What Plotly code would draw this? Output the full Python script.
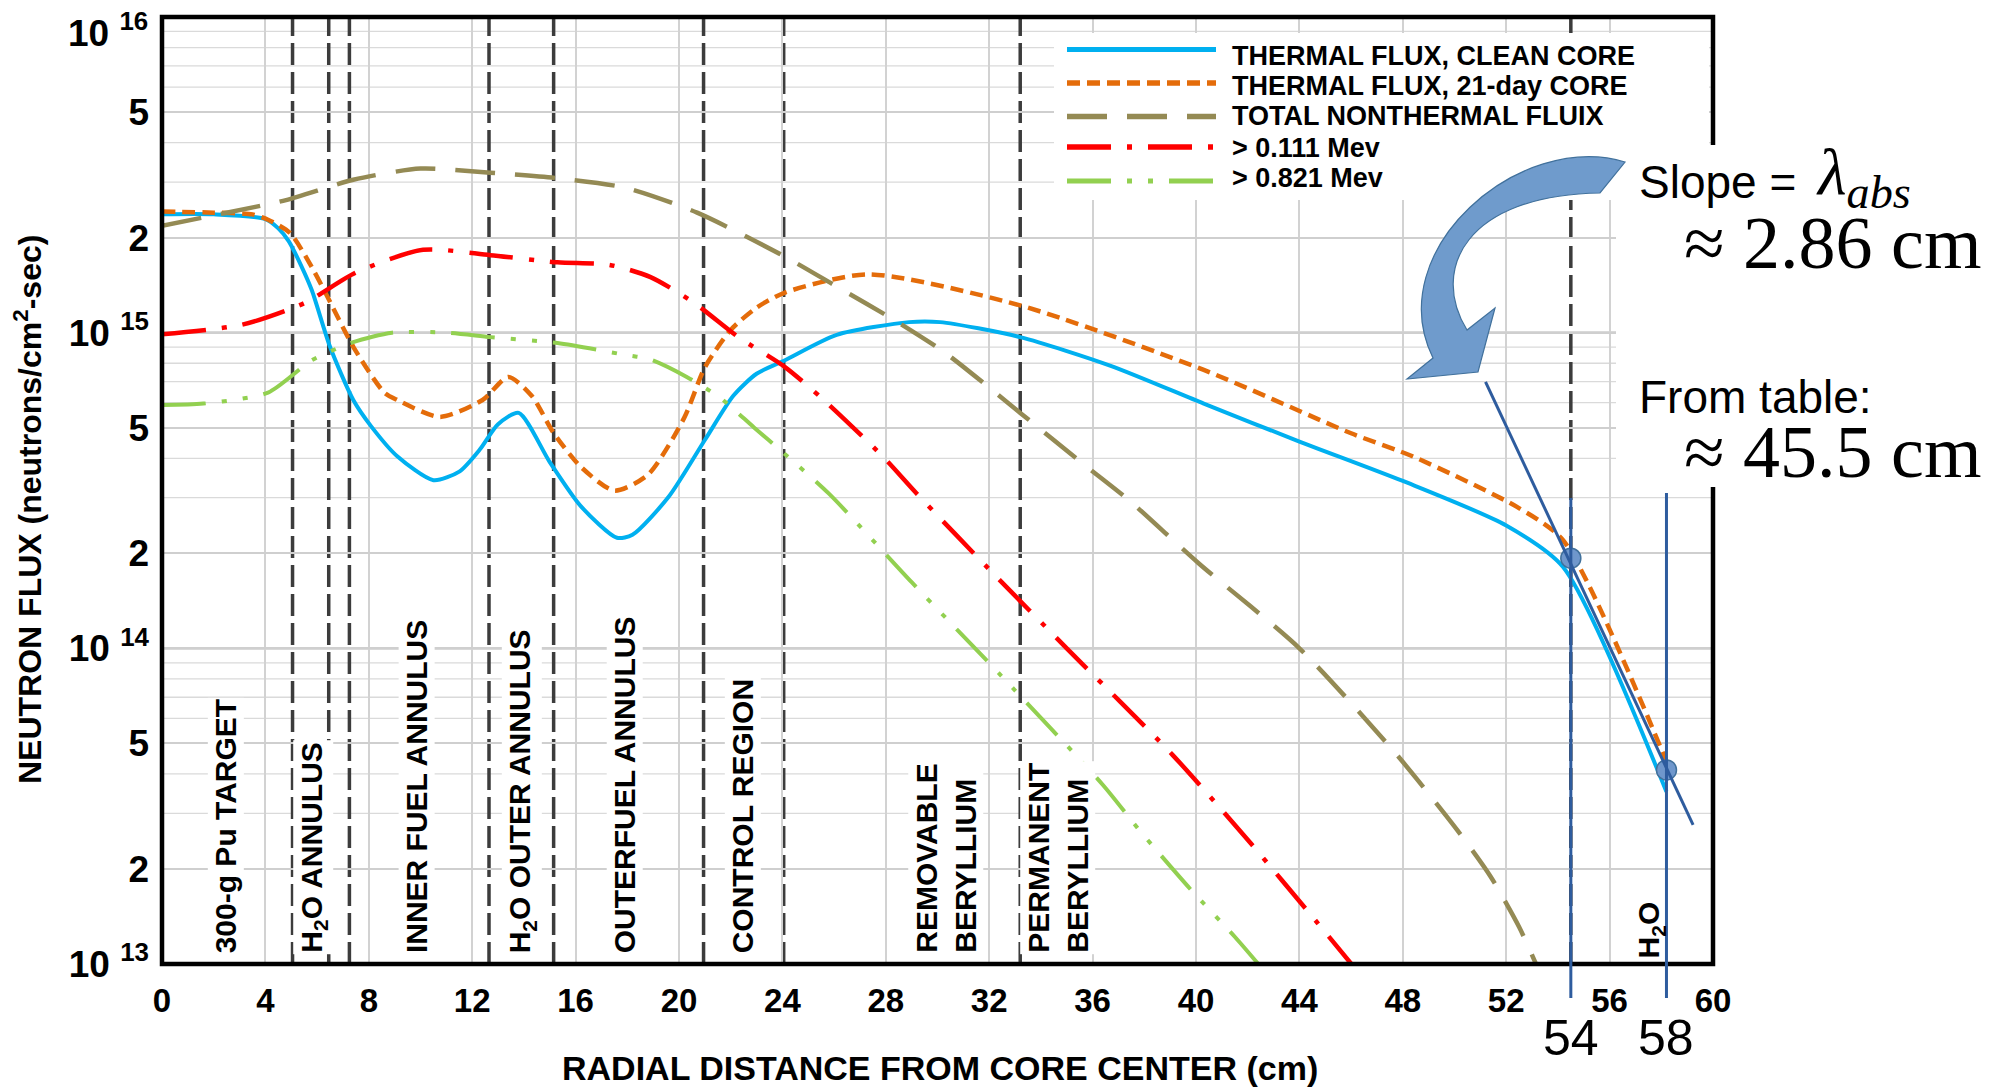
import plotly.graph_objects as go

# ---------------- data ----------------
clean_x = [0, 2, 4.0, 4.5, 4.9, 5.4, 5.8, 6.5, 7.4, 8.1, 9.1, 10.5, 11.5, 12.3, 13.0, 13.8,
           15.0, 16.2, 17.6, 18.2, 19.6, 21.0, 22.1, 23.0, 24.1, 26.1, 28.9, 30.1, 33.2,
           36.7, 40.3, 44.0, 48.0, 52.0, 54.2, 58.2]
clean_y = [2.37e15, 2.37e15, 2.29e15, 2.14e15, 1.95e15, 1.62e15, 1.36e15, 9.02e14, 6.12e14,
           5.04e14, 4.06e14, 3.41e14, 3.63e14, 4.27e14, 5.13e14, 5.57e14, 3.89e14, 2.82e14,
           2.24e14, 2.29e14, 3.02e14, 4.57e14, 6.31e14, 7.41e14, 8.18e14, 9.84e14, 1.08e15,
           1.08e15, 9.68e14, 7.85e14, 5.96e14, 4.52e14, 3.39e14, 2.45e14, 1.81e14, 3.51e13]

day21_x = [0, 2, 3.5, 4.1, 4.95, 5.8, 6.4, 7.4, 8.6, 9.1, 10.75, 12.4, 13.4, 14.3, 15.15,
           16.2, 17.5, 18.8, 20.2, 21.0, 22.0, 23.0, 24.1, 27.3, 33.2, 40.3, 46.0, 48.4,
           52.4, 54.2, 58.2]
day21_y = [2.42e15, 2.40e15, 2.37e15, 2.28e15, 2.07e15, 1.61e15, 1.30e15, 9.02e14, 6.46e14,
           6.12e14, 5.41e14, 6.12e14, 7.24e14, 6.31e14, 4.81e14, 3.76e14, 3.16e14, 3.55e14,
           5.37e14, 7.76e14, 1.02e15, 1.20e15, 1.34e15, 1.53e15, 1.22e15, 7.62e14, 4.80e14,
           4.05e14, 2.81e14, 2.20e14, 4.38e13]

nonthermal_x = [0, 2.4, 4.8, 7.4, 10.0, 12.7, 15.2, 17.9, 20.7, 24.1, 26.1, 28.3, 30.3, 33.2,
                35.6, 37.4, 40.1, 44.0, 47.7, 50.1, 51.4, 52.5, 53.2]
nonthermal_y = [2.18e15, 2.39e15, 2.63e15, 3.05e15, 3.31e15, 3.21e15, 3.09e15, 2.88e15,
                2.40e15, 1.74e15, 1.40e15, 1.10e15, 8.63e14, 5.57e14, 3.86e14, 2.95e14,
                1.86e14, 1.0e14, 4.67e13, 2.66e13, 1.89e13, 1.31e13, 9.8e12]

mev111_x = [0, 3.1, 5.5, 7.5, 10.1, 12.7, 15.3, 17.3, 18.9, 20.6, 22.3, 24.1, 25.6, 27.9,
            29.2, 32.0, 35.0, 39.1, 42.1, 44.6, 46.1]
mev111_y = [9.89e14, 1.06e15, 1.24e15, 1.55e15, 1.83e15, 1.76e15, 1.67e15, 1.64e15, 1.50e15,
            1.24e15, 9.68e14, 7.78e14, 6.12e14, 4.04e14, 3.09e14, 1.78e14, 1.0e14, 4.59e13,
            2.42e13, 1.38e13, 9.8e12]

mev821_x = [0, 1.6, 4.1, 5.8, 7.4, 8.9, 11.0, 12.7, 15.3, 17.9, 18.9, 20.3, 21.6, 22.9, 24.0,
            25.8, 29.0, 32.5, 36.4, 37.8, 39.8, 41.5, 42.5]
mev821_y = [5.90e14, 5.96e14, 6.46e14, 8.18e14, 9.33e14, 1.0e15, 1.0e15, 9.68e14, 9.27e14,
            8.51e14, 8.22e14, 7.24e14, 6.21e14, 5.01e14, 4.19e14, 3.09e14, 1.62e14, 8.13e13,
            3.69e13, 2.66e13, 1.72e13, 1.22e13, 9.8e12]

series_names = ["THERMAL FLUX, CLEAN CORE", "THERMAL FLUX, 21-day CORE",
                "TOTAL NONTHERMAL FLUIX", "> 0.111 Mev", "> 0.821 Mev"]

boundaries_x = [5.05, 6.45, 7.25, 12.65, 15.15, 20.95, 24.05, 33.2, 54.5]
region_names = ["300-g Pu TARGET", "H<sub>2</sub>O ANNULUS", "INNER FUEL ANNULUS",
                "H<sub>2</sub>O OUTER ANNULUS", "OUTERFUEL ANNULUS", "CONTROL REGION",
                "REMOVABLE<br>BERYLLIUM", "PERMANENT<br>BERYLLIUM", "H<sub>2</sub>O"]
region_x = [2.45, 5.85, 9.85, 13.9, 17.9, 22.45, 30.3, 34.65, 57.6]

x_tick_values = [0, 4, 8, 12, 16, 20, 24, 28, 32, 36, 40, 44, 48, 52, 56, 60]
x_tick_labels = ["0", "4", "8", "12", "16", "20", "24", "28", "32", "36", "40", "44", "48",
                 "52", "56", "60"]
y_tick_values = [1e13, 2e13, 5e13, 1e14, 2e14, 5e14, 1e15, 2e15, 5e15]
y_tick_labels = ["10 <sup>13</sup>", "2", "5", "10 <sup>14</sup>", "2", "5",
                 "10 <sup>15</sup>", "2", "5"]
y_top_label = "10 <sup>16</sup>"
y_minor_values = [3e13, 4e13, 6e13, 7e13, 8e13, 9e13,
                  3e14, 4e14, 6e14, 7e14, 8e14, 9e14,
                  3e15, 4e15, 6e15, 7e15, 8e15, 9e15]
decades_y = [1e14, 1e15]

point_x = [54.5, 58.2]
point_y = [1.93e14, 4.12e13]
point_labels = ["54", "58"]
tangent_x = [51.2, 59.23]
tangent_y = [6.98e14, 2.76e13]

# ---------------- layout geometry ----------------
# the page body has an 8px margin, so the figure is drawn 8px in from the window corner
OFF = 8
W, H = 1998 - OFF, 1088 - OFF
L, R, T, B = 162, 1713, 17, 964   # plot area in window pixels


def px(x):
    return (x - L) / (R - L)


def py(y):
    return (B - y) / (B - T)


SANS = "Liberation Sans, Arial, sans-serif"
SERIF = "Liberation Serif, Times New Roman, serif"

styles = [
    dict(color="#00B0F0", dash="solid", width=4),
    dict(color="#E46C0A", dash="13px,7px", width=4.5),
    dict(color="#948A54", dash="40px,20px", width=4.5),
    dict(color="#FF0000", dash="44px,16px,5px,16px", width=4.5),
    dict(color="#92D050", dash="44px,16px,5px,16px,5px,16px", width=4),
]
xs = [clean_x, day21_x, nonthermal_x, mev111_x, mev821_x]
ys = [clean_y, day21_y, nonthermal_y, mev111_y, mev821_y]

fig = go.Figure()
for name, x, y, st in zip(series_names, xs, ys, styles):
    fig.add_trace(go.Scatter(x=x, y=y, mode="lines", name=name, showlegend=False,
                             line=dict(color=st["color"], dash=st["dash"], width=st["width"],
                                       shape="spline", smoothing=0.7),
                             hoverinfo="skip"))

fig.add_trace(go.Scatter(x=point_x, y=point_y, mode="markers", showlegend=False,
                         marker=dict(size=20, color="#6F97CC",
                                     line=dict(color="#41719C", width=1.5)),
                         hoverinfo="skip"))

shapes = []
for mv in y_minor_values:
    shapes.append(dict(type="line", xref="paper", x0=0, x1=1, yref="y", y0=mv, y1=mv,
                       line=dict(color="#DADADA", width=1.3), layer="below"))
for d in decades_y:
    shapes.append(dict(type="line", xref="paper", x0=0, x1=1, yref="y", y0=d, y1=d,
                       line=dict(color="#B4B4B4", width=2.5), layer="between"))
for bx in boundaries_x:
    shapes.append(dict(type="line", xref="x", x0=bx, x1=bx, yref="paper", y0=0, y1=1,
                       line=dict(color="#3C3C3C", width=3.5, dash="22px,7px"), layer="between"))
shapes.append(dict(type="rect", xref="paper", yref="paper", x0=0, x1=1, y0=0, y1=1,
                   line=dict(color="black", width=4.5), layer="above"))
shapes.append(dict(type="rect", xref="paper", yref="paper", x0=px(1054), x1=px(1709),
                   y0=py(200), y1=py(33), fillcolor="white", line=dict(width=0), layer="above"))
shapes.append(dict(type="rect", xref="paper", yref="paper", x0=px(1616), x1=px(2000),
                   y0=py(487), y1=py(145), fillcolor="white", line=dict(width=0), layer="above"))

legend_line_y = [49.5, 83, 116.5, 147, 181]
legend_text_y = [56.5, 86.5, 115.5, 148, 178]
for st, ly in zip(styles, legend_line_y):
    shapes.append(dict(type="line", xref="paper", yref="paper", x0=px(1067), x1=px(1216),
                       y0=py(ly), y1=py(ly),
                       line=dict(color=st["color"], width=st["width"] + 1, dash=st["dash"]),
                       layer="above"))


def P(x, y):
    return f"{px(x):.5f},{py(y):.5f}"


arrow_path = ("M " + P(1625, 162) + " C " + P(1520, 130) + " " + P(1380, 250) + " " + P(1433, 358)
              + " L " + P(1407, 379) + " L " + P(1478, 372) + " L " + P(1495, 308)
              + " L " + P(1467, 330)
              + " C " + P(1430, 270) + " " + P(1465, 195) + " " + P(1600, 193) + " Z")
shapes.append(dict(type="path", xref="paper", yref="paper", path=arrow_path,
                   fillcolor="#6F9BCC", line=dict(color="#41719C", width=1.2), layer="above"))

shapes.append(dict(type="line", xref="x", yref="y", x0=tangent_x[0], x1=tangent_x[1],
                   y0=tangent_y[0], y1=tangent_y[1],
                   line=dict(color="#2E5C9E", width=3), layer="above"))
vtops = [498, 493]
for vx, vt in zip(point_x, vtops):
    shapes.append(dict(type="line", xref="x", yref="paper", x0=vx, x1=vx,
                       y0=py(998), y1=py(vt), line=dict(color="#2E5C9E", width=3),
                       layer="above"))

annotations = []
for i, (name, rx) in enumerate(zip(region_names, region_x)):
    last = i == len(region_names) - 1
    annotations.append(dict(x=rx, xref="x", y=py(960 if last else 955), yref="paper",
                            text=name, textangle=-90, showarrow=False,
                            xanchor="center", yanchor="bottom", align="left",
                            font=dict(family=SANS, size=30, color="black", weight="bold"),
                            bgcolor=None if last else "white", borderpad=1))
for name, ty in zip(series_names, legend_text_y):
    annotations.append(dict(x=px(1230), y=py(ty), xref="paper", yref="paper", text=name,
                            showarrow=False, xanchor="left", yanchor="middle",
                            font=dict(family=SANS, size=27, color="black", weight="bold")))
annotations.append(dict(x=px(150), y=py(30), xref="paper", yref="paper", text=y_top_label,
                        showarrow=False, xanchor="right", yanchor="middle",
                        font=dict(family=SANS, size=37, color="black", weight="bold")))
annotations.append(dict(x=px(940), y=py(1068), xref="paper", yref="paper",
                        text="RADIAL DISTANCE FROM CORE CENTER (cm)", showarrow=False,
                        xanchor="center", yanchor="middle",
                        font=dict(family=SANS, size=34, color="black", weight="bold")))
annotations.append(dict(x=px(28), y=py(510), xref="paper", yref="paper",
                        text="NEUTRON FLUX (neutrons/cm<sup>2</sup>-sec)", showarrow=False,
                        textangle=-90, xanchor="center", yanchor="middle",
                        font=dict(family=SANS, size=32, color="black", weight="bold")))
annotations.append(dict(x=px(1637), y=py(182), xref="paper", yref="paper", text="Slope =",
                        showarrow=False, xanchor="left", yanchor="middle",
                        font=dict(family=SANS, size=46, color="black")))
annotations.append(dict(x=px(1814), y=py(176), xref="paper", yref="paper",
                        text="<i>λ</i><sub><i>abs</i></sub>",
                        showarrow=False, xanchor="left", yanchor="middle",
                        font=dict(family=SERIF, size=66, color="black")))
annotations.append(dict(x=px(1984), y=py(243), xref="paper", yref="paper", text="≈ 2.86 cm",
                        showarrow=False, xanchor="right", yanchor="middle",
                        font=dict(family=SERIF, size=74, color="black")))
annotations.append(dict(x=px(1637), y=py(397), xref="paper", yref="paper", text="From table:",
                        showarrow=False, xanchor="left", yanchor="middle",
                        font=dict(family=SANS, size=46, color="black")))
annotations.append(dict(x=px(1984), y=py(452), xref="paper", yref="paper", text="≈ 45.5 cm",
                        showarrow=False, xanchor="right", yanchor="middle",
                        font=dict(family=SERIF, size=74, color="black")))
for lx, lt in zip(point_x, point_labels):
    annotations.append(dict(x=lx, xref="x", y=py(1038), yref="paper", text=lt,
                            showarrow=False, xanchor="center", yanchor="middle",
                            font=dict(family="Liberation Sans Narrow, Arial Narrow, Liberation Sans",
                                      size=50, color="black")))

fig.update_layout(
    template="none",
    width=W, height=H,
    margin=dict(l=L - OFF, r=(W + OFF) - R, t=T - OFF, b=(H + OFF) - B, pad=0),
    paper_bgcolor="white", plot_bgcolor="white",
    font=dict(family=SANS, color="black"),
    showlegend=False,
    shapes=shapes,
    annotations=annotations,
    xaxis=dict(range=[0, 60], tickvals=x_tick_values, ticktext=x_tick_labels,
               showgrid=True, gridcolor="#D2D2D2", gridwidth=1.5, zeroline=False,
               showline=False, ticks="", ticklabelstandoff=14, automargin=False,
               ticklabeloverflow="allow",
               tickfont=dict(family=SANS, size=33, color="black", weight="bold")),
    yaxis=dict(type="log", range=[13, 16], tickvals=y_tick_values, ticktext=y_tick_labels,
               showgrid=True, gridcolor="#CFCFCF", gridwidth=1.6, zeroline=False,
               showline=False, ticks="", ticklabelstandoff=12, automargin=False,
               ticklabeloverflow="allow",
               tickfont=dict(family=SANS, size=37, color="black", weight="bold")),
)

fig.write_html("out.html")
